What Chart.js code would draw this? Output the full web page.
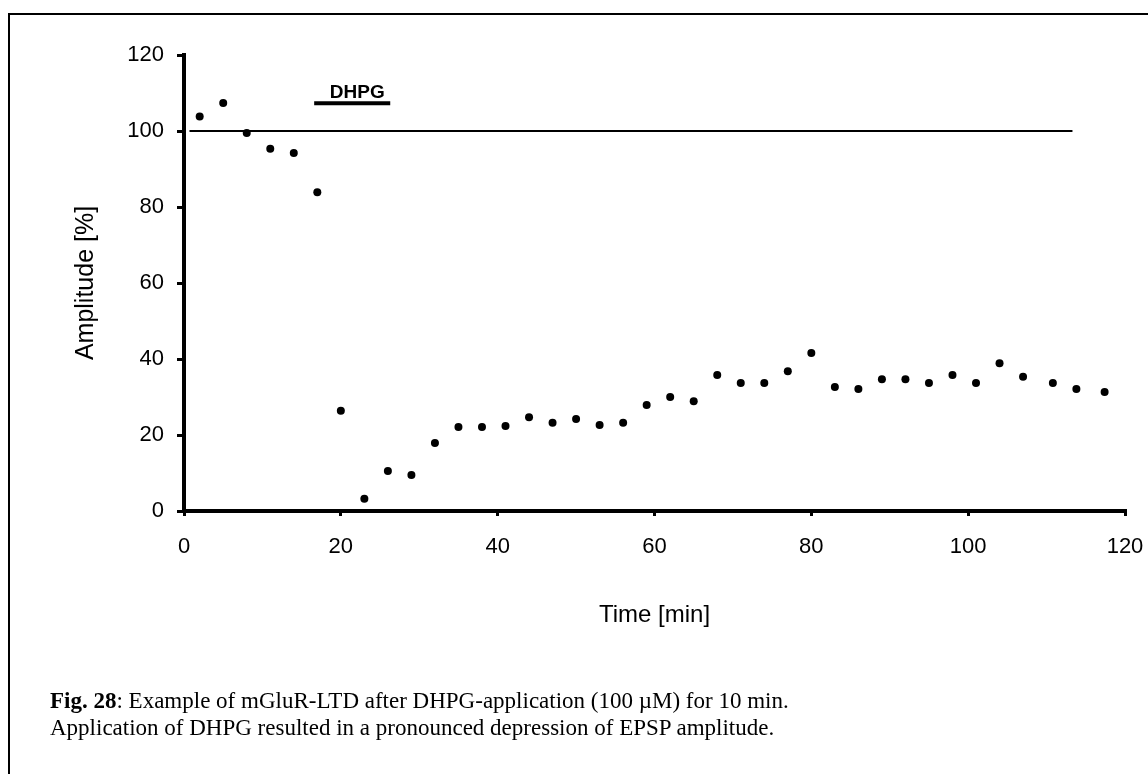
<!DOCTYPE html>
<html>
<head>
<meta charset="utf-8">
<script src="https://cdn.jsdelivr.net/npm/chart.js@4"></script>
<style>
  html, body { margin: 0; padding: 0; background: #fff; }
  body { width: 1148px; height: 774px; position: relative; overflow: hidden; }
  #frame { position: absolute; left: 8px; top: 13px; width: 1160px; height: 800px;
           border-left: 2px solid #000; border-top: 2px solid #000; box-sizing: border-box; }
  #chart { position: absolute; left: 0; top: 0; }
  #caption { position: absolute; left: 50px; top: 687px; color: #000;
             font-family: "Liberation Serif", "Times New Roman", serif;
             font-size: 23px; line-height: 27px; white-space: nowrap; }
</style>
</head>
<body>
<div id="frame"></div>
<canvas id="chart" width="1148" height="774"></canvas>
<div id="caption"><b>Fig. 28</b>: Example of mGluR-LTD after DHPG-application (100 µM) for 10 min.<br>Application of DHPG resulted in a pronounced depression of EPSP amplitude.</div>

<script>
// --- data ---
const times = [2, 5, 8, 11, 14, 17, 20, 23, 26, 29, 32, 35, 38, 41, 44, 47, 50, 53, 56, 59,
               62, 65, 68, 71, 74, 77, 80, 83, 86, 89, 92, 95, 98, 101, 104, 107, 110.8, 113.8, 117.4];
const amplitudes = [103.8, 107.4, 99.5, 95.3, 94.2, 83.9, 26.4, 3.2, 10.5, 9.5, 17.9, 22.1, 22.1, 22.4, 24.7,
                    23.2, 24.2, 22.6, 23.2, 27.9, 30.0, 28.9, 35.8, 33.7, 33.7, 36.8, 41.6, 32.6, 32.1, 34.7,
                    34.7, 33.7, 35.8, 33.7, 38.9, 35.3, 33.7, 32.1, 31.3];

// 100 % baseline
const baselineX = [0.7, 113.3];
const baselineY = 100;

// DHPG application bar
const dhpgX = [16.6, 26.3];
const dhpgY = 107.3;
const dhpgText = 'DHPG';
const dhpgTextAt = { x: 22.1, y: 110.1 };

const axisMin = 0, axisMax = 120, axisStep = 20;

// --- chart ---
Chart.defaults.font.family = '"Liberation Sans", Arial, sans-serif';
Chart.defaults.color = '#000';

const dhpgLabel = {
  id: 'dhpgLabel',
  afterDatasetsDraw(chart) {
    const { ctx, scales: { x, y } } = chart;
    ctx.save();
    ctx.font = 'bold 19px "Liberation Sans", Arial, sans-serif';
    ctx.fillStyle = '#000';
    ctx.textAlign = 'center';
    ctx.textBaseline = 'middle';
    ctx.fillText(dhpgText, x.getPixelForValue(dhpgTextAt.x), y.getPixelForValue(dhpgTextAt.y));
    ctx.restore();
  }
};

const axisGrid = (len) => ({
  drawOnChartArea: false, drawTicks: true, tickLength: len,
  tickWidth: 3, tickColor: '#000', color: '#000', lineWidth: 3
});

new Chart(document.getElementById('chart'), {
  type: 'scatter',
  data: {
    datasets: [
      {
        label: 'Amplitude',
        data: times.map((t, i) => ({ x: t, y: amplitudes[i] })),
        pointRadius: 4,
        pointBackgroundColor: '#000',
        pointBorderWidth: 0,
        showLine: false
      },
      {
        label: 'baseline',
        data: baselineX.map(t => ({ x: t, y: baselineY })),
        showLine: true, borderColor: '#000', borderWidth: 2, pointRadius: 0
      },
      {
        label: 'DHPG',
        data: dhpgX.map(t => ({ x: t, y: dhpgY })),
        showLine: true, borderColor: '#000', borderWidth: 4, pointRadius: 0,
        borderCapStyle: 'butt'
      }
    ]
  },
  options: {
    responsive: false,
    animation: false,
    layout: { padding: { left: 0, top: 55, right: 23, bottom: 0 } },
    plugins: { legend: { display: false }, tooltip: { enabled: false } },
    scales: {
      x: {
        type: 'linear', min: axisMin, max: axisMax,
        ticks: { stepSize: axisStep, padding: 18, font: { size: 22 } },
        grid: axisGrid(5),
        border: { color: '#000', width: 4 },
        title: { display: true, text: 'Time [min]', font: { size: 24 }, padding: { top: 0, bottom: 144 } },
        afterFit: (s) => { s.height = 263; s.paddingLeft = 0; s.paddingRight = 0; }
      },
      y: {
        type: 'linear', min: axisMin, max: axisMax,
        ticks: { stepSize: axisStep, padding: 13, font: { size: 22 } },
        grid: axisGrid(7),
        border: { color: '#000', width: 4 },
        title: { display: true, text: 'Amplitude [%]', font: { size: 25 }, padding: { top: 71, bottom: 0 } },
        afterFit: (s) => { s.width = 184; s.paddingTop = 0; s.paddingBottom = 0; }
      }
    }
  },
  plugins: [dhpgLabel]
});
</script>
</body>
</html>
